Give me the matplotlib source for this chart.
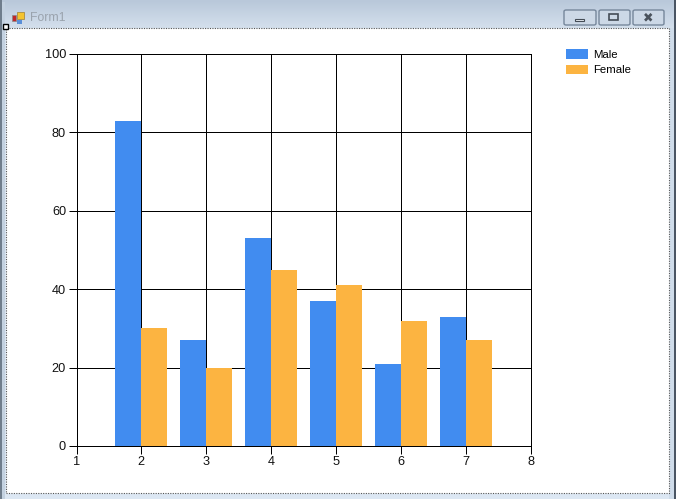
import numpy as np
from matplotlib import pyplot as plt
from matplotlib.colors import LinearSegmentedColormap
from matplotlib.patches import Rectangle, FancyBboxPatch

W, H = 676, 499

categories = [2, 3, 4, 5, 6, 7]
male = [83, 27, 53, 37, 21, 33]
female = [30, 20, 45, 41, 32, 27]
x_ticks = [1, 2, 3, 4, 5, 6, 7, 8]
y_ticks = [0, 20, 40, 60, 80, 100]

plt.rcParams['font.family'] = ['Liberation Sans', 'DejaVu Sans']

fig = plt.figure(figsize=(W / 100, H / 100), dpi=100, facecolor='#dce7f3')


def px_axes(left, top, right, bottom, **kw):
    return fig.add_axes([left / W, 1 - bottom / H, (right - left) / W, (bottom - top) / H], **kw)


def rect(x, y, w, h, **kw):
    # window chrome, in pixel coordinates from the top left
    fig.add_artist(Rectangle((x / W, 1 - (y + h) / H), w / W, h / H, transform=fig.transFigure, **kw))


# title bar gradient
bar = px_axes(0, 0, W, 28)
bar.imshow(np.linspace(0, 1, 28).reshape(-1, 1), aspect='auto',
           cmap=LinearSegmentedColormap.from_list('t', ['#b9c8da', '#d3dfec']))
bar.axis('off')

# window border and form area
rect(0, 0, 2, H, facecolor='#6f7d8c', edgecolor='none')
rect(2, 2, 3, H, facecolor='#c3d1e0', edgecolor='none')
rect(W - 2, 0, 2, H, facecolor='#4a5563', edgecolor='none')
rect(W - 7, 28, 5, H, facecolor='#cfdcea', edgecolor='none')
rect(5.5, 27.5, W - 13, 465.5, facecolor='white', edgecolor='#555555', linewidth=0.8, linestyle=(0, (1, 1.2)))
rect(3, 24, 5, 5, facecolor='white', edgecolor='black', linewidth=1, zorder=5)

# form icon and title
rect(12, 15, 4, 6, facecolor='#c0282a', edgecolor='#888888', linewidth=0.5)
rect(17, 12, 7, 7, facecolor='#f4c430', edgecolor='#a08030', linewidth=0.5)
rect(17, 20, 5, 4, facecolor='#5a8fd8', edgecolor='none')
fig.text(30 / W, 1 - 18 / H, 'Form1', fontsize=8.8, color='#9aa3ad', va='center', ha='left')

# caption buttons
for left, width in [(564, 32), (599, 31), (633, 31)]:
    fig.add_artist(FancyBboxPatch((left / W, 1 - 25 / H), width / W, 15 / H, transform=fig.transFigure,
                                  boxstyle='round,pad=0,rounding_size=0.003', facecolor='#ccd8e6',
                                  edgecolor='#76879b', linewidth=1))
rect(575, 18.5, 9, 2.5, facecolor='#e8edf3', edgecolor='#444c56', linewidth=0.8)
rect(609, 14, 9, 6, facecolor='none', edgecolor='#444c56', linewidth=1.2)
fig.text(648 / W, 1 - 18 / H, '\u2716', fontsize=9, color='#4a525c', ha='center', va='center',
         family=['DejaVu Sans'])

# chart
ax = px_axes(76.5, 54, 531, 446)
ax.set_facecolor('white')
ax.set_zorder(3)
ax.set_xlim(1, 8)
ax.set_ylim(0, 100)
ax.set_xticks(x_ticks)
ax.set_yticks(y_ticks)
ax.grid(color='black', linewidth=0.72)
ax.set_axisbelow(True)

pos = np.array(categories)
ax.bar(pos - 0.2, male, width=0.4, color='#418cf0', label='Male', zorder=2)
ax.bar(pos + 0.2, female, width=0.4, color='#fcb441', label='Female', zorder=2)

for spine in ax.spines.values():
    spine.set_linewidth(0.72)
    spine.set_zorder(4)
ax.tick_params(length=5.5, width=0.72, pad=2, labelsize=9.2, labelcolor='#111111')

ax.legend(loc='upper left', bbox_to_anchor=(566 / W, 1 - 49.5 / H), bbox_transform=fig.transFigure,
          frameon=False, fontsize=8.2, handlelength=1.93, handleheight=0.85, handletextpad=0.45,
          labelspacing=0.4, borderpad=0, borderaxespad=0)

fig.savefig('out.png', dpi=100, facecolor=fig.get_facecolor())
